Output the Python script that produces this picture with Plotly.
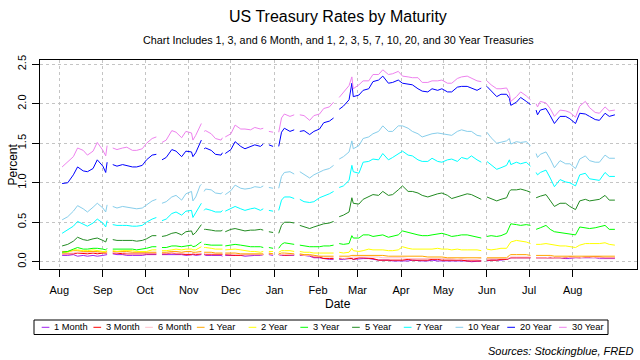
import pandas as pd
import plotly.graph_objects as go

# ---------------- data ----------------
dates = [
    # Aug 3 - Sep 4 2020
    "2020-08-03", "2020-08-07", "2020-08-11", "2020-08-14", "2020-08-18", "2020-08-21", "2020-08-25", "2020-08-28", "2020-09-01", "2020-09-03", "2020-09-04",
    # Sep 8 - Oct 9
    "2020-09-08", "2020-09-11", "2020-09-15", "2020-09-18", "2020-09-22", "2020-09-25", "2020-09-29", "2020-10-02", "2020-10-06", "2020-10-09",
    # Oct 13 - Nov 10
    "2020-10-13", "2020-10-16", "2020-10-20", "2020-10-23", "2020-10-27", "2020-10-30", "2020-11-03", "2020-11-04", "2020-11-06", "2020-11-09", "2020-11-10",
    # Nov 12 - Nov 25
    "2020-11-12", "2020-11-13", "2020-11-17", "2020-11-20", "2020-11-24", "2020-11-25",
    # Nov 27 - Dec 24
    "2020-11-27", "2020-12-01", "2020-12-04", "2020-12-08", "2020-12-11", "2020-12-15", "2020-12-18", "2020-12-22", "2020-12-24",
    # Dec 28 - Dec 31
    "2020-12-28", "2020-12-31",
    # Jan 4 - Jan 15 2021
    "2021-01-04", "2021-01-06", "2021-01-08", "2021-01-12", "2021-01-15",
    # Jan 19 - Feb 12
    "2021-01-19", "2021-01-22", "2021-01-26", "2021-01-29", "2021-02-02", "2021-02-05", "2021-02-09", "2021-02-12",
    # Feb 16 - May 28
    "2021-02-16", "2021-02-19", "2021-02-23", "2021-02-25", "2021-02-26", "2021-03-02", "2021-03-05", "2021-03-09", "2021-03-12", "2021-03-16",
    "2021-03-19", "2021-03-23", "2021-03-26", "2021-03-30", "2021-04-02", "2021-04-06", "2021-04-09", "2021-04-13", "2021-04-16", "2021-04-20",
    "2021-04-23", "2021-04-27", "2021-04-30", "2021-05-04", "2021-05-07", "2021-05-11", "2021-05-14", "2021-05-18", "2021-05-21", "2021-05-25", "2021-05-28",
    # Jun 1 - Jul 2
    "2021-06-01", "2021-06-04", "2021-06-08", "2021-06-11", "2021-06-15", "2021-06-17", "2021-06-18", "2021-06-22", "2021-06-25", "2021-06-29", "2021-07-02",
    # Jul 6 - Aug 31
    "2021-07-06", "2021-07-07", "2021-07-09", "2021-07-13", "2021-07-16", "2021-07-19", "2021-07-23", "2021-07-27", "2021-07-30",
    "2021-08-03", "2021-08-06", "2021-08-10", "2021-08-13", "2021-08-17", "2021-08-20", "2021-08-24", "2021-08-27", "2021-08-31",
]

# market holidays (no value -> line breaks)
holidays = ["2020-09-07", "2020-10-12", "2020-11-11", "2020-11-26", "2020-12-25",
            "2021-01-01", "2021-01-18", "2021-02-15", "2021-05-31", "2021-07-05"]

m1 = [0.08, 0.08, 0.09, 0.07, 0.08, 0.07, 0.08, 0.07, 0.08, 0.09, 0.09,
      0.10, 0.09, 0.09, 0.08, 0.08, 0.08, 0.08, 0.09, 0.09, 0.09,
      0.09, 0.09, 0.09, 0.09, 0.09, 0.08, 0.09, 0.09, 0.08, 0.09, 0.09,
      0.09, 0.08, 0.08, 0.08, 0.08, 0.07,
      0.08, 0.08, 0.08, 0.08, 0.07, 0.08, 0.08, 0.08, 0.09,
      0.09, 0.08,
      0.09, 0.08, 0.08, 0.08, 0.08,
      0.08, 0.08, 0.07, 0.05, 0.05, 0.04, 0.03, 0.03,
      0.03, 0.03, 0.04, 0.04, 0.03, 0.04, 0.04, 0.04, 0.03, 0.02,
      0.02, 0.02, 0.01, 0.01, 0.01, 0.01, 0.02, 0.01, 0.01, 0.01,
      0.02, 0.01, 0.01, 0.01, 0.01, 0.01, 0.01, 0.01, 0.00, 0.01, 0.01,
      0.01, 0.02, 0.02, 0.02, 0.03, 0.04, 0.05, 0.05, 0.05, 0.05, 0.05,
      0.05, 0.05, 0.05, 0.05, 0.05, 0.05, 0.05, 0.04, 0.04,
      0.05, 0.05, 0.05, 0.05, 0.05, 0.04, 0.04, 0.04, 0.04]

m3 = [0.10, 0.10, 0.10, 0.11, 0.10, 0.10, 0.11, 0.10, 0.11, 0.11, 0.11,
      0.11, 0.11, 0.10, 0.10, 0.10, 0.10, 0.10, 0.10, 0.10, 0.10,
      0.10, 0.10, 0.11, 0.10, 0.10, 0.09, 0.09, 0.10, 0.09, 0.10, 0.10,
      0.10, 0.09, 0.09, 0.09, 0.09, 0.09,
      0.09, 0.08, 0.08, 0.08, 0.09, 0.09, 0.09, 0.09, 0.09,
      0.10, 0.09,
      0.09, 0.09, 0.08, 0.09, 0.09,
      0.09, 0.08, 0.08, 0.06, 0.06, 0.04, 0.04, 0.04,
      0.04, 0.04, 0.04, 0.04, 0.03, 0.05, 0.05, 0.04, 0.04, 0.02,
      0.02, 0.02, 0.02, 0.02, 0.02, 0.03, 0.02, 0.02, 0.02, 0.02,
      0.03, 0.03, 0.02, 0.02, 0.02, 0.02, 0.02, 0.01, 0.01, 0.01, 0.01,
      0.02, 0.02, 0.02, 0.03, 0.03, 0.04, 0.05, 0.05, 0.05, 0.05, 0.05,
      0.05, 0.05, 0.05, 0.05, 0.05, 0.05, 0.05, 0.05, 0.06,
      0.05, 0.05, 0.06, 0.06, 0.06, 0.06, 0.05, 0.05, 0.05]

m6 = [0.11, 0.11, 0.11, 0.12, 0.12, 0.12, 0.12, 0.12, 0.12, 0.12, 0.12,
      0.12, 0.12, 0.12, 0.11, 0.11, 0.11, 0.11, 0.11, 0.11, 0.11,
      0.11, 0.11, 0.11, 0.11, 0.11, 0.11, 0.11, 0.11, 0.10, 0.11, 0.11,
      0.11, 0.10, 0.10, 0.10, 0.10, 0.10,
      0.10, 0.10, 0.09, 0.09, 0.09, 0.09, 0.09, 0.09, 0.09,
      0.10, 0.09,
      0.09, 0.09, 0.09, 0.09, 0.09,
      0.09, 0.08, 0.08, 0.07, 0.07, 0.06, 0.06, 0.05,
      0.05, 0.04, 0.05, 0.06, 0.06, 0.06, 0.06, 0.06, 0.06, 0.06,
      0.05, 0.05, 0.05, 0.05, 0.05, 0.04, 0.04, 0.04, 0.04, 0.04,
      0.04, 0.04, 0.04, 0.04, 0.04, 0.03, 0.04, 0.03, 0.03, 0.03, 0.04,
      0.04, 0.04, 0.04, 0.04, 0.04, 0.05, 0.06, 0.06, 0.06, 0.06, 0.06,
      0.05, 0.05, 0.05, 0.05, 0.06, 0.05, 0.05, 0.06, 0.05,
      0.05, 0.05, 0.06, 0.06, 0.05, 0.05, 0.05, 0.05, 0.05]

y1 = [0.13, 0.13, 0.14, 0.14, 0.13, 0.13, 0.13, 0.13, 0.12, 0.12, 0.13,
      0.13, 0.13, 0.13, 0.13, 0.12, 0.12, 0.12, 0.12, 0.12, 0.12,
      0.12, 0.12, 0.13, 0.13, 0.12, 0.13, 0.13, 0.12, 0.12, 0.13, 0.13,
      0.12, 0.12, 0.12, 0.11, 0.11, 0.11,
      0.11, 0.11, 0.11, 0.10, 0.10, 0.10, 0.10, 0.10, 0.10,
      0.11, 0.10,
      0.10, 0.11, 0.11, 0.10, 0.10,
      0.10, 0.09, 0.09, 0.08, 0.07, 0.07, 0.07, 0.07,
      0.07, 0.07, 0.07, 0.08, 0.08, 0.08, 0.08, 0.08, 0.08, 0.08,
      0.08, 0.07, 0.07, 0.07, 0.07, 0.07, 0.07, 0.07, 0.07, 0.06,
      0.06, 0.06, 0.06, 0.05, 0.05, 0.05, 0.05, 0.05, 0.05, 0.05, 0.05,
      0.05, 0.05, 0.05, 0.05, 0.05, 0.08, 0.09, 0.09, 0.09, 0.09, 0.08,
      0.08, 0.08, 0.08, 0.08, 0.08, 0.07, 0.07, 0.07, 0.07,
      0.07, 0.07, 0.07, 0.07, 0.07, 0.07, 0.07, 0.07, 0.07]

y2 = [0.11, 0.12, 0.15, 0.15, 0.14, 0.14, 0.15, 0.14, 0.13, 0.13, 0.14,
      0.14, 0.13, 0.14, 0.14, 0.14, 0.13, 0.13, 0.13, 0.15, 0.15,
      0.14, 0.14, 0.15, 0.16, 0.15, 0.16, 0.16, 0.15, 0.15, 0.18, 0.19,
      0.18, 0.18, 0.17, 0.16, 0.16, 0.16,
      0.15, 0.16, 0.16, 0.15, 0.14, 0.13, 0.13, 0.12, 0.13,
      0.13, 0.13,
      0.12, 0.14, 0.14, 0.14, 0.13,
      0.13, 0.12, 0.12, 0.11, 0.11, 0.11, 0.11, 0.11,
      0.12, 0.11, 0.12, 0.17, 0.14, 0.13, 0.14, 0.16, 0.15, 0.15,
      0.15, 0.14, 0.14, 0.15, 0.19, 0.17, 0.16, 0.16, 0.16, 0.16,
      0.16, 0.17, 0.16, 0.16, 0.15, 0.16, 0.15, 0.15, 0.15, 0.15, 0.14,
      0.16, 0.15, 0.16, 0.17, 0.17, 0.23, 0.25, 0.27, 0.26, 0.25, 0.23,
      0.22, 0.22, 0.22, 0.23, 0.22, 0.21, 0.20, 0.20, 0.19,
      0.18, 0.21, 0.23, 0.23, 0.23, 0.23, 0.24, 0.22, 0.21]

y3 = [0.12, 0.13, 0.16, 0.18, 0.16, 0.16, 0.17, 0.17, 0.16, 0.15, 0.17,
      0.16, 0.16, 0.16, 0.16, 0.16, 0.15, 0.16, 0.17, 0.19, 0.19,
      0.18, 0.18, 0.20, 0.20, 0.19, 0.20, 0.21, 0.19, 0.20, 0.24, 0.25,
      0.22, 0.22, 0.21, 0.21, 0.21, 0.21,
      0.20, 0.21, 0.22, 0.21, 0.20, 0.19, 0.19, 0.19, 0.18,
      0.18, 0.17,
      0.17, 0.22, 0.24, 0.23, 0.22,
      0.21, 0.20, 0.19, 0.19, 0.19, 0.20, 0.20, 0.21,
      0.23, 0.22, 0.23, 0.33, 0.30, 0.30, 0.34, 0.34, 0.32, 0.33,
      0.34, 0.31, 0.32, 0.34, 0.39, 0.37, 0.36, 0.34, 0.33, 0.33,
      0.34, 0.35, 0.36, 0.34, 0.32, 0.33, 0.34, 0.34, 0.33, 0.31, 0.30,
      0.32, 0.33, 0.32, 0.33, 0.36, 0.44, 0.48, 0.47, 0.46, 0.47, 0.46,
      0.41, 0.42, 0.43, 0.46, 0.41, 0.38, 0.37, 0.36, 0.35,
      0.34, 0.44, 0.43, 0.42, 0.43, 0.44, 0.46, 0.41, 0.41]

y5 = [0.20, 0.22, 0.26, 0.31, 0.28, 0.27, 0.29, 0.30, 0.27, 0.25, 0.30,
      0.28, 0.27, 0.27, 0.27, 0.27, 0.26, 0.27, 0.29, 0.33, 0.33,
      0.32, 0.33, 0.36, 0.37, 0.34, 0.38, 0.39, 0.34, 0.37, 0.45, 0.47,
      0.41, 0.41, 0.40, 0.39, 0.39, 0.40,
      0.38, 0.41, 0.42, 0.40, 0.39, 0.40, 0.40, 0.41, 0.40,
      0.38, 0.37,
      0.36, 0.46, 0.50, 0.50, 0.49,
      0.46, 0.44, 0.42, 0.44, 0.46, 0.48, 0.49, 0.51,
      0.57, 0.59, 0.63, 0.81, 0.74, 0.73, 0.79, 0.82, 0.85, 0.84,
      0.89, 0.84, 0.85, 0.91, 0.96, 0.89, 0.89, 0.87, 0.84, 0.82,
      0.84, 0.86, 0.87, 0.84, 0.80, 0.82, 0.84, 0.86, 0.85, 0.82, 0.79,
      0.82, 0.80, 0.77, 0.79, 0.81, 0.89, 0.91, 0.91, 0.92, 0.90, 0.88,
      0.81, 0.82, 0.83, 0.85, 0.78, 0.70, 0.74, 0.74, 0.70,
      0.66, 0.77, 0.79, 0.77, 0.78, 0.79, 0.84, 0.78, 0.78]

y7 = [0.36, 0.40, 0.45, 0.51, 0.48, 0.45, 0.49, 0.54, 0.49, 0.44, 0.52,
      0.47, 0.46, 0.46, 0.46, 0.45, 0.45, 0.46, 0.50, 0.54, 0.56,
      0.52, 0.54, 0.61, 0.63, 0.59, 0.64, 0.65, 0.56, 0.62, 0.72, 0.74,
      0.65, 0.67, 0.65, 0.63, 0.63, 0.65,
      0.64, 0.67, 0.70, 0.67, 0.65, 0.67, 0.68, 0.65, 0.67,
      0.65, 0.64,
      0.65, 0.78, 0.82, 0.82, 0.80,
      0.79, 0.76, 0.75, 0.76, 0.81, 0.83, 0.86, 0.89,
      0.94, 0.96, 1.03, 1.22, 1.14, 1.12, 1.26, 1.27, 1.30, 1.29,
      1.37, 1.29, 1.32, 1.37, 1.40, 1.35, 1.34, 1.29, 1.27, 1.27,
      1.31, 1.27, 1.26, 1.29, 1.30, 1.27, 1.32, 1.30, 1.34, 1.29, 1.26,
      1.27, 1.23, 1.17, 1.19, 1.22, 1.29, 1.23, 1.26, 1.24, 1.26, 1.21,
      1.13, 1.10, 1.13, 1.16, 1.06, 0.95, 1.04, 1.01, 1.00,
      0.96, 1.10, 1.12, 1.05, 1.04, 1.03, 1.13, 1.08, 1.08]

y10 = [0.53, 0.57, 0.64, 0.71, 0.67, 0.63, 0.69, 0.74, 0.68, 0.63, 0.72,
       0.70, 0.68, 0.70, 0.69, 0.68, 0.67, 0.68, 0.72, 0.77, 0.79,
       0.74, 0.76, 0.82, 0.84, 0.78, 0.86, 0.89, 0.77, 0.82, 0.96, 0.98,
       0.89, 0.92, 0.91, 0.87, 0.86, 0.88,
       0.85, 0.90, 0.97, 0.93, 0.92, 0.93, 0.95, 0.94, 0.96,
       0.94, 0.93,
       0.93, 1.08, 1.13, 1.14, 1.11,
       1.14, 1.11, 1.06, 1.10, 1.14, 1.16, 1.18, 1.22,
       1.30, 1.33, 1.39, 1.53, 1.43, 1.47, 1.56, 1.58, 1.62, 1.65,
       1.72, 1.65, 1.65, 1.72, 1.72, 1.69, 1.65, 1.62, 1.58, 1.60,
       1.62, 1.63, 1.62, 1.61, 1.60, 1.65, 1.67, 1.65, 1.65, 1.60, 1.59,
       1.64, 1.57, 1.50, 1.51, 1.53, 1.56, 1.49, 1.52, 1.51, 1.52, 1.47,
       1.37, 1.32, 1.36, 1.39, 1.30, 1.19, 1.28, 1.24, 1.24,
       1.18, 1.30, 1.34, 1.28, 1.26, 1.26, 1.35, 1.31, 1.31]

y20 = [0.99, 1.00, 1.10, 1.20, 1.15, 1.14, 1.18, 1.29, 1.21, 1.13, 1.26,
       1.23, 1.21, 1.23, 1.22, 1.20, 1.20, 1.22, 1.29, 1.35, 1.36,
       1.29, 1.32, 1.42, 1.40, 1.33, 1.40, 1.39, 1.33, 1.38, 1.50, 1.54,
       1.43, 1.44, 1.41, 1.36, 1.35, 1.38,
       1.37, 1.42, 1.52, 1.46, 1.43, 1.46, 1.48, 1.46, 1.49,
       1.48, 1.46,
       1.46, 1.64, 1.69, 1.65, 1.67,
       1.65, 1.66, 1.61, 1.65, 1.68, 1.76, 1.78, 1.82,
       1.93, 1.97, 2.05, 2.26, 2.09, 2.11, 2.17, 2.19, 2.28, 2.30,
       2.35, 2.26, 2.27, 2.30, 2.26, 2.25, 2.24, 2.19, 2.16, 2.15,
       2.19, 2.17, 2.19, 2.15, 2.15, 2.21, 2.22, 2.22, 2.20, 2.17, 2.20,
       2.22, 2.16, 2.09, 2.12, 2.12, 2.07, 1.98, 2.02, 2.08, 2.03, 1.99,
       1.92, 1.86, 1.92, 1.94, 1.85, 1.75, 1.84, 1.84, 1.81,
       1.75, 1.88, 1.87, 1.84, 1.80, 1.79, 1.88, 1.84, 1.86]

y30 = [1.20, 1.26, 1.33, 1.44, 1.41, 1.35, 1.40, 1.51, 1.41, 1.34, 1.47,
       1.44, 1.42, 1.44, 1.45, 1.41, 1.41, 1.43, 1.50, 1.56, 1.58,
       1.51, 1.54, 1.66, 1.64, 1.57, 1.65, 1.63, 1.54, 1.60, 1.72, 1.75,
       1.65, 1.66, 1.62, 1.56, 1.54, 1.57,
       1.58, 1.62, 1.73, 1.68, 1.68, 1.67, 1.70, 1.68, 1.69,
       1.65, 1.64,
       1.64, 1.82, 1.87, 1.84, 1.86,
       1.86, 1.85, 1.79, 1.85, 1.87, 1.94, 1.96, 2.02,
       2.08, 2.14, 2.23, 2.34, 2.19, 2.24, 2.29, 2.29, 2.37, 2.37,
       2.43, 2.37, 2.38, 2.41, 2.35, 2.34, 2.33, 2.33, 2.27, 2.27,
       2.29, 2.29, 2.30, 2.26, 2.26, 2.32, 2.34, 2.35, 2.32, 2.29, 2.28,
       2.29, 2.24, 2.19, 2.19, 2.20, 2.13, 2.03, 2.09, 2.15, 2.10, 2.05,
       2.00, 1.96, 2.03, 2.01, 1.94, 1.84, 1.92, 1.91, 1.89,
       1.83, 1.97, 2.03, 1.95, 1.89, 1.88, 1.96, 1.91, 1.92]

series_names = ["1 Month", "3 Month", "6 Month", "1 Year", "2 Year", "3 Year",
                "5 Year", "7 Year", "10 Year", "20 Year", "30 Year"]
series_values = [m1, m3, m6, y1, y2, y3, y5, y7, y10, y20, y30]
series_colors = ["#A020F0", "#FF0000", "#FFC0CB", "#FFA500", "#FFFF00", "#00FF00",
                 "#228B22", "#00FFFF", "#87CEEB", "#0000FF", "#EE82EE"]

month_ticks = ["2020-08-01", "2020-09-01", "2020-10-01", "2020-11-01", "2020-12-01", "2021-01-01",
               "2021-02-01", "2021-03-01", "2021-04-01", "2021-05-01", "2021-06-01", "2021-07-01", "2021-08-01"]
month_labels = ["Aug", "Sep", "Oct", "Nov", "Dec", "Jan", "Feb", "Mar", "Apr", "May", "Jun", "Jul", "Aug"]
y_ticks = [0.0, 0.5, 1.0, 1.5, 2.0, 2.5]
y_labels = ["0.0", "0.5", "1.0", "1.5", "2.0", "2.5"]

# ---------------- table with holiday gaps ----------------
df = pd.DataFrame({"date": pd.to_datetime(dates)})
for name, vals in zip(series_names, series_values):
    df[name] = vals
gaps = pd.DataFrame({"date": pd.to_datetime(holidays)})
df = pd.concat([df, gaps], ignore_index=True).sort_values("date").reset_index(drop=True)

FONT = "Liberation Sans, Arial, Helvetica, sans-serif"
L, R, T, B = 40, 637, 60, 269  # plot area in pixels
W, H = 640, 360


def px(x):
    return (x - L) / (R - L)


def py(y):
    return (B - y) / (B - T)


fig = go.Figure()
for name, color in zip(series_names, series_colors):
    yv = [None if pd.isna(v) else float(v) for v in df[name]]
    fig.add_trace(go.Scatter(x=df["date"], y=yv, mode="lines", name=name,
                             line=dict(color=color, width=1), connectgaps=False,
                             showlegend=False, hoverinfo="skip"))

# axis range (R style 4% padding)
x0 = pd.Timestamp(dates[0]); x1 = pd.Timestamp(dates[-1])
pad = (x1 - x0) * 0.04
axis_common = dict(showline=True, linecolor="black", linewidth=1, mirror=True,
                   ticks="outside", ticklen=7, tickwidth=1, tickcolor="black",
                   showgrid=True, gridcolor="#C4C4C4", gridwidth=1, griddash="dot",
                   zeroline=False, tickfont=dict(family=FONT, size=11, color="black"))

fig.update_layout(
    width=W, height=H,
    margin=dict(l=L, r=W - R, t=T, b=H - B, pad=0),
    paper_bgcolor="white", plot_bgcolor="white",
    font=dict(family=FONT, color="black"),
    xaxis=dict(type="date", range=[x0 - pad, x1 + pad], tickmode="array",
               tickvals=month_ticks, ticktext=month_labels, ticklabelstandoff=4, **axis_common),
    yaxis=dict(range=[-0.092, 2.554], tickmode="array", tickvals=y_ticks, ticktext=y_labels,
               tickangle=-90, ticklabelstandoff=2, **axis_common),
)

ann = [
    dict(text="US Treasury Rates by Maturity", x=px(338), y=py(16), font=dict(size=16)),
    dict(text="Chart Includes 1, 3, and 6 Month, and 1, 2, 3, 5, 7, 10, 20, and 30 Year Treasuries",
         x=px(338), y=py(40), font=dict(size=10.8)),
    dict(text="Date", x=px(338), y=py(304), font=dict(size=12)),
    dict(text="Percent", x=px(12), y=py(164.5), textangle=-90, font=dict(size=12)),
    dict(text="<i>Sources: Stockingblue, FRED</i>", x=px(636), y=py(351), xanchor="right",
         font=dict(size=11)),
]
for a in ann:
    a.setdefault("xanchor", "center")
    a.update(xref="paper", yref="paper", yanchor="middle", showarrow=False)
    a["font"].update(family=FONT, color="black")
    fig.add_annotation(**a)

# legend drawn in R style (horizontal boxed legend below the plot)
leg_x0, leg_x1, leg_y0, leg_y1 = 34, 608, 320, 334.5
fig.add_shape(type="rect", xref="paper", yref="paper", x0=px(leg_x0), x1=px(leg_x1),
              y0=py(leg_y1), y1=py(leg_y0), line=dict(color="black", width=1), fillcolor="white")
step = 51.73
for i, (name, color) in enumerate(zip(series_names, series_colors)):
    sx = 41.7 + i * step
    fig.add_shape(type="line", xref="paper", yref="paper", x0=px(sx), x1=px(sx + 7.7),
                  y0=py(327.3), y1=py(327.3), line=dict(color=color, width=1))
    fig.add_annotation(text=name, xref="paper", yref="paper", x=px(sx + 10.6), y=py(327.3),
                       xanchor="left", yanchor="middle", showarrow=False,
                       font=dict(family=FONT, size=9.3, color="black"))

# remove the browser's default page margin so the figure sits at the window origin
fig.write_html("out.html", config={"displayModeBar": False, "staticPlot": True},
               post_script="document.body.style.margin='0';document.body.style.overflow='hidden';")
